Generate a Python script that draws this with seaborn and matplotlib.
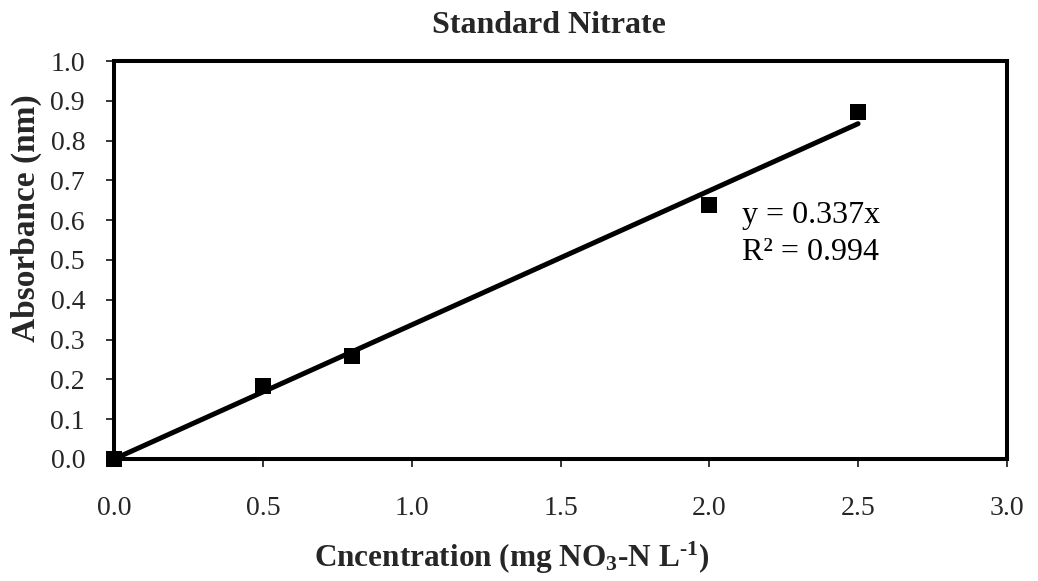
import numpy as np
import pandas as pd
import matplotlib
matplotlib.use("Agg")
import matplotlib.pyplot as plt
import seaborn as sns

# Standard nitrate calibration points
concentration = [0.0, 0.5, 0.8, 2.0, 2.5]
absorbance = [0.0, 0.183, 0.259, 0.638, 0.873]
slope = 0.337
r_squared = 0.994

x_ticks = [0.0, 0.5, 1.0, 1.5, 2.0, 2.5, 3.0]
y_ticks = [0.0, 0.1, 0.2, 0.3, 0.4, 0.5, 0.6, 0.7, 0.8, 0.9, 1.0]

sns.set_theme(style="white")
plt.rcParams["font.family"] = ["Liberation Serif", "DejaVu Serif"]
plt.rcParams["mathtext.fontset"] = "custom"
plt.rcParams["mathtext.rm"] = "Liberation Serif:bold"
plt.rcParams["mathtext.bf"] = "Liberation Serif:bold"
plt.rcParams["mathtext.default"] = "bf"

df = pd.DataFrame({"conc": concentration, "abs": absorbance})
fit_x = np.array([min(concentration), max(concentration)])
fit = pd.DataFrame({"conc": fit_x, "abs": slope * fit_x})

fig = plt.figure(figsize=(10.38, 5.81), dpi=100)
ax = fig.add_axes([0.110, 0.210, 0.860, 0.685])

# Linear trendline through the origin
sns.lineplot(data=fit, x="conc", y="abs", ax=ax, color="black", linewidth=3.6,
             solid_capstyle="round", zorder=2)
# Measured standards
sns.scatterplot(data=df, x="conc", y="abs", ax=ax, marker="s", s=120,
                color="black", edgecolor="black", linewidth=0, zorder=3,
                clip_on=False)

ax.set_xlim(0, 3.0)
ax.set_ylim(0, 1.0)
ax.set_xticks(x_ticks)
ax.set_yticks(y_ticks)
ax.set_xticklabels([f"{v:.1f}" for v in x_ticks])
ax.set_yticklabels([f"{v:.1f}" for v in y_ticks])
ax.tick_params(axis="both", which="major", labelsize=20, direction="out",
               length=6, width=1.1, color="black", bottom=True, left=True,
               top=False, right=False)
ax.tick_params(axis="y", pad=15)
ax.tick_params(axis="x", pad=21)

for side in ["left", "right", "top", "bottom"]:
    ax.spines[side].set_visible(True)
    ax.spines[side].set_color("black")
    ax.spines[side].set_linewidth(2.9)

ax.set_title("Standard Nitrate", fontsize=23, fontweight="bold", pad=20,
             x=0.487)
ax.set_ylabel("Absorbance (nm)", fontsize=24, fontweight="bold", labelpad=6)
ax.yaxis.label.set_y(0.605)
ax.set_xlabel(r"Cncentration (mg NO$_3$-N L$^{\text{-}1}$)", fontsize=22.5,
              fontweight="bold", labelpad=13)
ax.xaxis.label.set_x(0.445)

ax.text(2.11, 0.593, f"y = {slope}x", fontsize=23, ha="left",
        va="baseline", color="black")
ax.text(2.11, 0.500, f"R² = {r_squared}", fontsize=23, ha="left",
        va="baseline", color="black")

fig.savefig("out.png", dpi=100, facecolor="white")
